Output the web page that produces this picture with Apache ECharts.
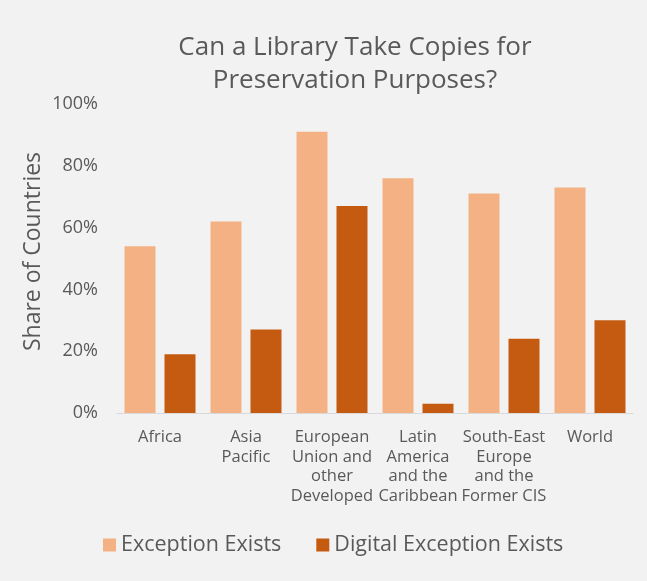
<!DOCTYPE html>
<html>
<head>
<meta charset="utf-8">
<script src="https://cdn.jsdelivr.net/npm/echarts@6/dist/echarts.min.js"></script>
<style>
html,body{margin:0;padding:0;background:#F2F2F2;}
#c{width:647px;height:581px;}
</style>
</head>
<body>
<div id="c"></div>
<script>
const categories = ["Africa", "Asia\nPacific", "European\nUnion and\nother\nDeveloped", "Latin\nAmerica\nand the\nCaribbean", "South-East\nEurope\nand the\nFormer CIS", "World"];
const exceptionExists = [54, 62, 91, 76, 71, 73];
const digitalExceptionExists = [19, 27, 67, 3, 24, 30];
const yTicks = [0, 20, 40, 60, 80, 100];

const FONT = "'Open Sans', Roboto, sans-serif";
const chart = echarts.init(document.getElementById('c'), null, {renderer: 'canvas'});
chart.setOption({
  backgroundColor: '#F2F2F2',
  textStyle: {fontFamily: FONT},
  title: {
    text: 'Can a Library Take Copies for\nPreservation Purposes?',
    left: 350, top: 26, textAlign: 'center',
    textStyle: {fontFamily: FONT, fontSize: 26, fontWeight: 'normal', color: '#595959', lineHeight: 33}
  },
  legend: {
    bottom: 20, left: 98,
    itemWidth: 13, itemHeight: 13, itemGap: 35,
    icon: 'rect',
    textStyle: {fontFamily: FONT, fontSize: 21.5, color: '#595959'},
    data: ['Exception Exists', 'Digital Exception Exists']
  },
  grid: {left: 117, right: 14, top: 104, bottom: 168, containLabel: false},
  xAxis: {
    type: 'category', data: categories,
    axisLine: {lineStyle: {color: '#D9D9D9'}},
    axisTick: {show: false},
    axisLabel: {interval: 0, color: '#595959', fontSize: 16.5, lineHeight: 19.5, margin: 15, fontFamily: FONT}
  },
  yAxis: {
    type: 'value', min: 0, max: 100, interval: 20,
    name: 'Share of Countries', nameLocation: 'middle', nameGap: 72, nameMoveOverlap: false,
    nameTextStyle: {fontSize: 23, color: '#595959', fontFamily: FONT, padding: [0, 0, 0, 14]},
    axisLine: {show: false}, axisTick: {show: false}, splitLine: {show: false},
    axisLabel: {formatter: v => yTicks.includes(v) ? v + '%' : '', color: '#595959', fontSize: 18, margin: 19, fontFamily: FONT}
  },
  series: [
    {name: 'Exception Exists', type: 'bar', data: exceptionExists, barWidth: 31, barGap: '29%', itemStyle: {color: '#F4B183'}},
    {name: 'Digital Exception Exists', type: 'bar', data: digitalExceptionExists, barWidth: 31, itemStyle: {color: '#C55A11'}}
  ]
});
</script>
</body>
</html>
